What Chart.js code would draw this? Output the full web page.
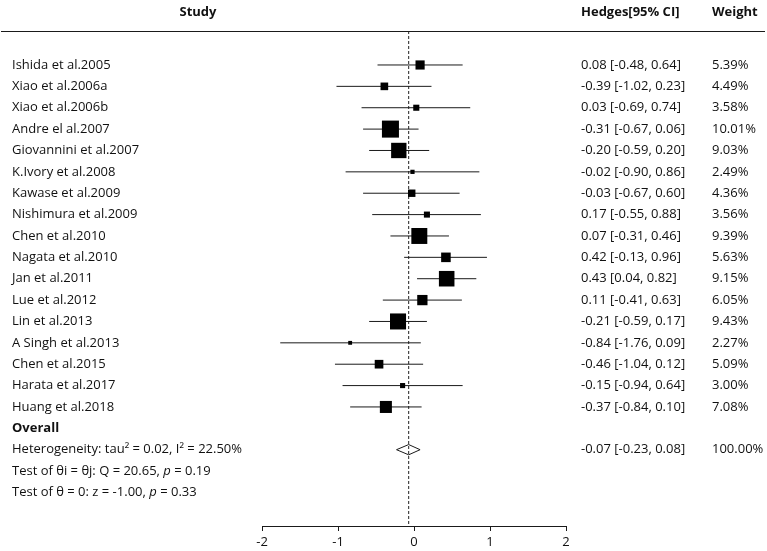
<!DOCTYPE html>
<html><head><meta charset="utf-8">
<script src="https://cdn.jsdelivr.net/npm/chart.js@4/dist/chart.umd.min.js"></script>
<style>html,body{margin:0;padding:0;background:#fff}</style>
</head><body>
<canvas id="c" width="767" height="551"></canvas>
<script>
// ---- data ----
const studies = ["Ishida et al.2005","Xiao et al.2006a","Xiao et al.2006b","Andre el al.2007","Giovannini et al.2007","K.Ivory et al.2008","Kawase et al.2009","Nishimura et al.2009","Chen et al.2010","Nagata et al.2010","Jan et al.2011","Lue et al.2012","Lin et al.2013","A Singh et al.2013","Chen et al.2015","Harata et al.2017","Huang et al.2018"];
const estimates = [0.08,-0.39,0.03,-0.31,-0.20,-0.02,-0.03,0.17,0.07,0.42,0.43,0.11,-0.21,-0.84,-0.46,-0.15,-0.37];
const ciLow =     [-0.48,-1.02,-0.69,-0.67,-0.59,-0.90,-0.67,-0.55,-0.31,-0.13,0.04,-0.41,-0.59,-1.76,-1.04,-0.94,-0.84];
const ciHigh =    [0.64,0.23,0.74,0.06,0.20,0.86,0.60,0.88,0.46,0.96,0.82,0.63,0.17,0.09,0.12,0.64,0.10];
const weights =   [5.39,4.49,3.58,10.01,9.03,2.49,4.36,3.56,9.39,5.63,9.15,6.05,9.43,2.27,5.09,3.00,7.08];
const overallEst = -0.07, overallLow = -0.23, overallHigh = 0.08, overallWeight = 100.00;
const heterogeneity = {tau2: 0.02, i2: 22.50};
const testQ = {Q: 20.65, p: 0.19};
const testZ = {z: -1.00, p: 0.33};
const xTicks = [-2,-1,0,1,2];
const headers = ["Study","Hedges[95% CI]","Weight"];

// ---- layout rows ----
const ROW_OVERALL = studies.length;      // 17
const ROW_HET = studies.length + 1;      // 18
const ROW_T1 = studies.length + 2;
const ROW_T2 = studies.length + 3;
const Y_MIN = -1.59, Y_MAX = 21.57;

const FONT = "'Open Sans', 'Noto Sans', sans-serif";
const FS = 13;
const TXT = '#111';

const datasets = [];
// CI lines
studies.forEach((s,i)=>{
  datasets.push({type:'scatter', showLine:true, data:[{x:ciLow[i],y:i},{x:ciHigh[i],y:i}],
    borderColor:'#1a1a1a', borderWidth:1, pointRadius:0, order:3});
});
// squares
datasets.push({type:'scatter', data: estimates.map((e,i)=>({x:e,y:i})),
  pointStyle:'rect', backgroundColor:'#000', borderWidth:0,
  pointRadius: ctx => weights[ctx.dataIndex]*1.7/Math.SQRT2, order:1});
// diamond
datasets.push({type:'scatter', showLine:true,
  data:[{x:overallLow,y:ROW_HET},{x:overallEst,y:ROW_HET-0.24},{x:overallHigh,y:ROW_HET},{x:overallEst,y:ROW_HET+0.24},{x:overallLow,y:ROW_HET}],
  borderColor:'#1a1a1a', borderWidth:1, backgroundColor:'#fff', fill:false, pointRadius:0, tension:0, order:0});
// dashed overall line
datasets.push({type:'scatter', showLine:true, data:[{x:overallEst,y:Y_MIN},{x:overallEst,y:Y_MAX}],
  borderColor:'#222', borderWidth:1, borderDash:[3,2], pointRadius:0, order:4});

const fmt = v => v.toFixed(2);

function runs(ctx, x, y, parts){
  parts.forEach(p=>{
    ctx.font = (p.i?'italic ':'') + FS + 'px ' + FONT;
    ctx.fillText(p.t, x, y);
    x += ctx.measureText(p.t).width;
  });
}

const textPlugin = {
  id:'forestText',
  afterDraw(chart){
    const ctx = chart.ctx, ys = chart.scales.y, area = chart.chartArea;
    ctx.save();
    ctx.fillStyle = TXT;
    ctx.textBaseline = 'middle';
    // header
    ctx.font = 'bold ' + FS + 'px ' + FONT;
    ctx.textAlign = 'center';
    ctx.fillText(headers[0], 198, 12);
    ctx.textAlign = 'left';
    ctx.fillText(headers[1], 581, 12);
    ctx.fillText(headers[2], 712, 12);
    // header rule
    ctx.strokeStyle = '#1a1a1a'; ctx.lineWidth = 1;
    ctx.beginPath(); ctx.moveTo(1, area.top + 0.5); ctx.lineTo(765, area.top + 0.5); ctx.stroke();
    // study rows
    ctx.font = FS + 'px ' + FONT;
    studies.forEach((s,i)=>{
      const y = ys.getPixelForValue(i);
      ctx.fillText(s, 12, y);
      ctx.fillText(`${fmt(estimates[i])} [${fmt(ciLow[i])}, ${fmt(ciHigh[i])}]`, 581, y);
      ctx.fillText(`${fmt(weights[i])}%`, 712, y);
    });
    ctx.font = 'bold ' + FS + 'px ' + FONT;
    ctx.fillText('Overall', 12, ys.getPixelForValue(ROW_OVERALL));
    ctx.font = FS + 'px ' + FONT;
    let y = ys.getPixelForValue(ROW_HET);
    ctx.fillText(`Heterogeneity: tau² = ${fmt(heterogeneity.tau2)}, I² = ${fmt(heterogeneity.i2)}%`, 12, y);
    ctx.fillText(`${fmt(overallEst)} [${fmt(overallLow)}, ${fmt(overallHigh)}]`, 581, y);
    ctx.fillText(`${fmt(overallWeight)}%`, 712, y);
    runs(ctx, 12, ys.getPixelForValue(ROW_T1), [{t:`Test of θi = θj: Q = ${fmt(testQ.Q)}, `},{t:'p',i:true},{t:` = ${fmt(testQ.p)}`}]);
    runs(ctx, 12, ys.getPixelForValue(ROW_T2), [{t:`Test of θ = 0: z = ${fmt(testZ.z)}, `},{t:'p',i:true},{t:` = ${fmt(testZ.p)}`}]);
    ctx.restore();
  }
};

new Chart(document.getElementById('c'), {
  data:{datasets},
  options:{
    responsive:false, animation:false, devicePixelRatio:1,
    layout:{padding:{left:262, right:201, top:31, bottom:0}},
    plugins:{legend:{display:false}, tooltip:{enabled:false}},
    scales:{
      x:{type:'linear', min:-2, max:2,
        afterBuildTicks: s => { s.ticks = xTicks.map(v=>({value:v})); },
        afterFit: s => { s.height = 25; },
        ticks:{color:TXT, font:{family:FONT, size:FS}, padding:3, maxRotation:0, callback:v=>String(v)},
        grid:{drawOnChartArea:false, drawTicks:true, tickLength:5, color:'#1a1a1a'},
        border:{display:true, color:'#1a1a1a', width:1}},
      y:{type:'linear', min:Y_MIN, max:Y_MAX, reverse:true, display:false}
    }
  },
  plugins:[textPlugin]
});
</script>
</body></html>
